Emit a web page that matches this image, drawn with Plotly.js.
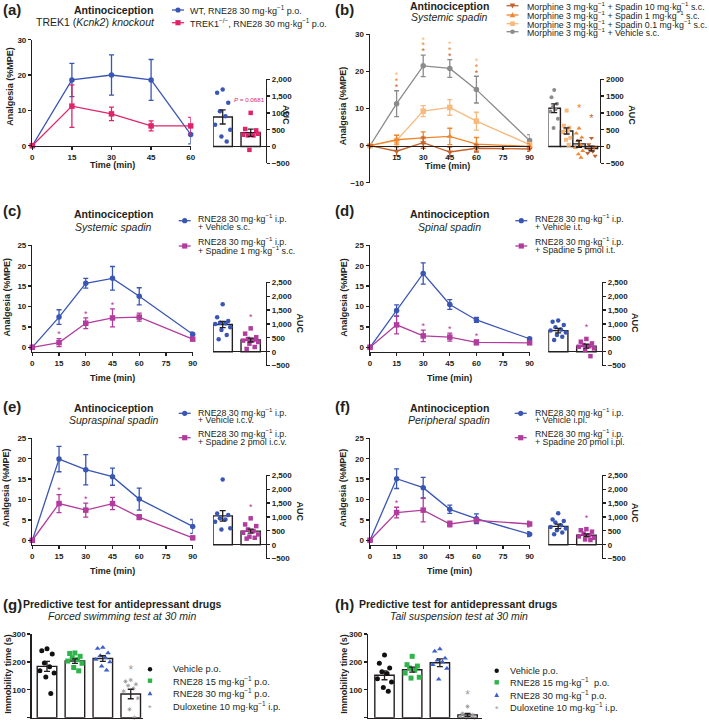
<!DOCTYPE html>
<html><head><meta charset="utf-8">
<script src="https://cdn.plot.ly/plotly-3.0.1.min.js"></script>
<style>html,body{margin:0;padding:0;background:#fff}#chart{width:709px;height:722px}</style>
</head><body><div id="chart"></div>
<script>
// ================= DATA =================
const timeA = [0, 15, 30, 45, 60];
const timeB = [0, 15, 30, 45, 60, 90];
const timeTicks = [0, 15, 30, 45, 60, 75, 90];

// (a) TREK1 knockout
const aWT = [0, 18.6, 20.0, 18.6, 3.2];
const aWTerr = [0, 4.7, 5.7, 5.8, 2.7];
const aKO = [0, 11.2, 9.0, 5.6, 5.6];
const aKOerr = [0, 6.0, 1.9, 1.4, 2.4];
const aAucMean = [880, 410];
const aAucErr = [210, 110];
const aAucWT = [1700, 1600, 1300, 1050, 900, 650, 500, 300, 150];
const aAucKO = [1000, 520, 480, 330, 330, 350, 380, -100];

// (b) systemic spadin with morphine
const bVeh = [0, 11.3, 21.5, 20.8, 15.1, 1.4];
const bVehErr = [0, 3.5, 2.9, 2.4, 3.6, 1.6];
const b01 = [0, 1.4, 9.3, 10.3, 6.6, 0.3];
const b01Err = [0, 1.5, 1.5, 2.1, 2.4, 0.6];
const b1 = [0, 1.6, 2.1, 2.5, 0.4, -0.2];
const b1Err = [0, 1.2, 1.6, 2.2, 1.8, 0.8];
const b10 = [0, -1.5, 0.8, -1.7, -0.7, -0.9];
const b10Err = [0, 1.2, 1.5, 1.3, 1.0, 0.6];
const bSig = [false, true, true, true, true, false];
const bAucMean = [1140, 462, 78, -60];
const bAucErr = [130, 90, 100, 70];
const bAucVeh = [1678, 1467, 1276, 1176, 1105, 1045, 824, 553];
const bAuc01 = [1070, 620, 560, 500, 470, 430, 260, 200, 50];
const bAuc1 = [540, 390, 270, 170, 50, -30, -130, -230, -330];
const bAuc10 = [250, 60, -30, -100, -150, -200, -280];
const bAucSig = [false, false, true, true];

// (c) systemic spadin
const cVeh = [0, 7.4, 15.7, 16.9, 12.5, 3.2];
const cVehErr = [0, 1.8, 1.2, 2.9, 2.1, 0.5];
const cSpa = [0, 1.15, 5.9, 7.2, 7.4, 2.0];
const cSpaErr = [0, 1.0, 1.3, 2.2, 1.0, 0.3];
const cSig = [false, true, true, true, false, false];
const cAucMean = [980, 420];
const cAucErr = [110, 70];
const cAucVeh = [1707, 1238, 1106, 1046, 1022, 998, 877, 781, 601, 445];
const cAucSpa = [840, 650, 520, 460, 420, 400, 350, 290, 170, 100];

// (d) spinal spadin
const dVeh = [0, 9.0, 18.1, 10.5, 6.7, 2.1];
const dVehErr = [0, 1.4, 2.6, 1.2, 0.6, 0.2];
const dSpa = [0, 5.5, 2.8, 2.5, 1.2, 1.1];
const dSpaErr = [0, 2.2, 1.4, 1.0, 0.6, 0.3];
const dSig = [false, false, true, true, true, false];
const dAucMean = [760, 200];
const dAucErr = [80, 70];
const dAucVeh = [1120, 1080, 960, 880, 800, 760, 690, 600, 540, 420];
const dAucSpa = [460, 360, 300, 240, 200, 180, 120, 60, -160];

// (e) supraspinal spadin
const eVeh = [0, 19.9, 17.3, 15.6, 10.1, 3.4];
const eVehErr = [0, 3.1, 3.7, 2.1, 2.7, 1.7];
const eSpa = [0, 9.0, 7.4, 9.0, 5.7, 0.6];
const eSpaErr = [0, 2.2, 1.7, 1.5, 0.6, 0.3];
const eSig = [false, true, true, false, false, false];
const eAucMean = [1040, 490];
const eAucErr = [190, 70];
const eAucVeh = [2350, 1120, 1070, 950, 910, 830, 590, 550];
const eAucSpa = [950, 730, 670, 550, 490, 430, 370, 290, 250, 220];

// (f) peripheral spadin
const fVeh = [0, 15.1, 12.9, 7.6, 5.3, 1.5];
const fVehErr = [0, 2.4, 2.5, 1.0, 1.2, 0.6];
const fSpa = [0, 6.8, 7.4, 4.0, 4.9, 4.0];
const fSpaErr = [0, 1.3, 2.9, 0.7, 0.5, 0.7];
const fSig = [false, true, false, false, false, false];
const fAucMean = [660, 340];
const fAucErr = [80, 50];
const fAucVeh = [1130, 910, 850, 800, 700, 640, 580, 520, 440, 380];
const fAucSpa = [560, 520, 470, 400, 340, 300, 250, 190, 170];

// (g) forced swimming test
const gMean = [184, 203, 212, 85];
const gErr = [18, 8, 10, 17];
const gVeh = [247, 240, 228, 196, 183, 168, 160, 146, 87];
const gR15 = [232, 230, 220, 215, 208, 203, 195, 180, 168];
const gR30 = [252, 248, 232, 222, 215, 209, 200, 184, 170];
const gDul = [135, 130, 120, 115, 105, 95, 70, 30, 0];
const gSig = [false, false, false, true];

// (h) tail suspension test
const hMean = [152, 172, 197, 10];
const hErr = [16, 9, 14, 5];
const hVeh = [225, 195, 178, 165, 158, 140, 128, 108, 95];
const hR15 = [220, 190, 185, 178, 170, 160, 145, 142];
const hR30 = [246, 238, 213, 206, 200, 190, 176, 138];
const hDul = [40, 15, 10, 5, 3, 2, 0, 0];
const hSig = [false, false, false, true];

// ================= STYLE / LAYOUT =================
const W = 709, H = 722;
const FONT = 'Liberation Sans, Arial, Helvetica, sans-serif';
const INK = '#231f20';
const BLUE = '#3a56b4', PINK = '#e0246c', MAG = '#b23c9e', GRAY = '#8b8b8b';
const LOR = '#f8b97c', OR = '#ef852d', DOR = '#c5622b';
const GREEN = '#2fb44b', TBLUE = '#3d5fcc', BLACK = '#111111', DGRAY = '#9a9a9a';
const MG = 'mg·kg<sup>−1</sup>';

const layout = {
  width: W, height: H, margin: {l: 0, r: 0, t: 0, b: 0},
  paper_bgcolor: '#ffffff', plot_bgcolor: 'rgba(0,0,0,0)',
  showlegend: false, annotations: [], shapes: [],
  font: {family: FONT, color: INK}
};
const traces = [];
const px = v => v / W;
const py = v => 1 - v / H;
const baseAxis = () => ({
  showline: true, linecolor: INK, linewidth: 1.4, ticks: 'outside', ticklen: 3,
  tickwidth: 1.3, tickcolor: INK, showgrid: false, zeroline: false, fixedrange: true,
  tickfont: {family: FONT, size: 8, color: INK, weight: 'bold'}, layer: 'above traces'
});
let nAx = 0;
function newAxes(xd, yd, xopt, yopt) {
  nAx++;
  const s = nAx === 1 ? '' : String(nAx);
  layout['xaxis' + s] = Object.assign(baseAxis(), {domain: [px(xd[0]), px(xd[1])], anchor: 'y' + s}, xopt);
  layout['yaxis' + s] = Object.assign(baseAxis(), {domain: [py(yd[1]), py(yd[0])], anchor: 'x' + s}, yopt);
  return {x: 'x' + s, y: 'y' + s};
}
function txt(t, x, y, o) {
  o = o || {};
  layout.annotations.push({text: t, xref: 'paper', yref: 'paper', x: px(x), y: py(y),
    xanchor: o.xa || 'center', yanchor: 'middle', showarrow: false, textangle: o.rot || 0,
    font: {family: FONT, size: o.size || 9, color: o.color || INK}});
}
function key(cx, cy, color, sym, withLine, r) {
  r = r || 2.6;
  const P = {xref: 'paper', yref: 'paper', layer: 'above'};
  if (withLine) layout.shapes.push(Object.assign({type: 'line', x0: px(cx - 6), x1: px(cx + 6), y0: py(cy), y1: py(cy), line: {color: color, width: 1.3}}, P));
  if (sym === 'circle') layout.shapes.push(Object.assign({type: 'circle', x0: px(cx - r), x1: px(cx + r), y0: py(cy + r), y1: py(cy - r), fillcolor: color, line: {width: 0}}, P));
  else if (sym === 'square') layout.shapes.push(Object.assign({type: 'rect', x0: px(cx - r), x1: px(cx + r), y0: py(cy + r), y1: py(cy - r), fillcolor: color, line: {width: 0}}, P));
  else if (sym === 'triangle-up') layout.shapes.push(Object.assign({type: 'path', path: `M${px(cx - r * 1.2)},${py(cy + r)} L${px(cx + r * 1.2)},${py(cy + r)} L${px(cx)},${py(cy - r * 1.2)} Z`, fillcolor: color, line: {width: 0}}, P));
  else if (sym === 'triangle-down') layout.shapes.push(Object.assign({type: 'path', path: `M${px(cx - r * 1.2)},${py(cy - r)} L${px(cx + r * 1.2)},${py(cy - r)} L${px(cx)},${py(cy + r * 1.2)} Z`, fillcolor: color, line: {width: 0}}, P));
  else if (sym === 'star') txt('*', cx, cy + 2, {color: color, size: 9});
}
function addSeries(ax, x, y, err, color, symbol, ms) {
  traces.push({type: 'scatter', mode: 'lines+markers', x: x, y: y, xaxis: ax.x, yaxis: ax.y,
    cliponaxis: false, hoverinfo: 'skip',
    line: {color: color, width: 1.3}, marker: {color: color, symbol: symbol, size: ms || 5.5, line: {width: 0}},
    error_y: {type: 'data', array: err, visible: true, color: color, thickness: 1.3, width: 2.5}});
}
function addStars(ax, x, y, err, sig, color, size, gap) {
  const xs = [], ys = [];
  x.forEach((v, i) => { if (sig[i]) { xs.push(v); ys.push(y[i] + err[i] + gap); } });
  traces.push({type: 'scatter', mode: 'text', x: xs, y: ys, text: xs.map(() => '*'),
    textposition: 'middle center', textfont: {family: FONT, size: size, color: color},
    xaxis: ax.x, yaxis: ax.y, cliponaxis: false, hoverinfo: 'skip'});
}
const JIT = [0, -0.22, 0.22, -0.11, 0.11, -0.3, 0.3, -0.05, 0.16, -0.16];
function addAuc(ax, means, errs, groups, barW, jit, sig, sigGap, sigSize) {
  traces.push({type: 'bar', x: means.map((_, i) => i), y: means, width: barW, xaxis: ax.x, yaxis: ax.y,
    marker: {color: '#ffffff', line: {color: INK, width: 1.4}}, hoverinfo: 'skip'});
  groups.forEach((g, i) => {
    traces.push({type: 'scatter', mode: 'markers', x: g.vals.map((_, k) => i + JIT[k % JIT.length] * jit), y: g.vals,
      xaxis: ax.x, yaxis: ax.y, cliponaxis: false, hoverinfo: 'skip',
      marker: {color: g.color, symbol: g.symbol, size: g.size || 4.5,
        line: g.symbol === 'asterisk-open' ? {color: g.color, width: 0.8} : {width: 0}}});
  });
  traces.push({type: 'scatter', mode: 'markers', x: means.map((_, i) => i), y: means, xaxis: ax.x, yaxis: ax.y,
    marker: {size: 1, color: 'rgba(0,0,0,0)'}, hoverinfo: 'skip', cliponaxis: false,
    error_y: {type: 'data', array: errs, visible: true, color: INK, thickness: 1.3, width: 3}});
  if (sig) {
    const xs = [], ys = [];
    sig.forEach((s, i) => { if (s) { xs.push(i); ys.push(Math.max.apply(null, groups[i].vals) + sigGap); } });
    traces.push({type: 'scatter', mode: 'text', x: xs, y: ys, text: xs.map(() => '*'), textposition: 'middle center',
      textfont: {family: FONT, size: sigSize || 9, color: groups[sig.indexOf(true)].color},
      xaxis: ax.x, yaxis: ax.y, cliponaxis: false, hoverinfo: 'skip'});
  }
}
const aucX = {visible: false, fixedrange: true};
function aucY(range, extra) {
  return Object.assign({side: 'right', range: range, dtick: 500, zeroline: true, zerolinecolor: INK, zerolinewidth: 1.4, tickformat: ','}, extra || {});
}

// ---------- (a) ----------
let ax = newAxes([32.3, 190.7], [39.7, 145.7], {range: [0, 60], tickvals: timeA}, {range: [0, 30], tickvals: [0, 10, 20, 30]});
addSeries(ax, timeA, aWT, aWTerr, BLUE, 'circle');
addSeries(ax, timeA, aKO, aKOerr, PINK, 'square');
ax = newAxes([213, 265.7], [79.3, 163.3], Object.assign({range: [-0.346, 1.536]}, aucX),
  aucY([-500, 2000], {tickvals: [-500, 0, 500, 1000, 1500, 2000], ticktext: ['−500', '0', '500', '1000', '1,500', '2,000']}));
addAuc(ax, aAucMean, aAucErr, [{vals: aAucWT, color: BLUE, symbol: 'circle'}, {vals: aAucKO, color: PINK, symbol: 'square'}], 0.69, 0.9);

// ---------- (b) ----------
ax = newAxes([370, 529.6], [34.3, 182.8], {range: [0, 90], tickvals: [15, 30, 45, 60, 75, 90], anchor: 'free', position: py(145.7)},
  {range: [-10, 30], tickvals: [-10, 0, 10, 20, 30]});
addSeries(ax, timeB, bVeh, bVehErr, GRAY, 'circle');
addSeries(ax, timeB, b01, b01Err, LOR, 'square');
addSeries(ax, timeB, b1, b1Err, OR, 'triangle-up');
addSeries(ax, timeB, b10, b10Err, DOR, 'triangle-down');
addStars(ax, timeB, bVeh, bVehErr, bSig, DOR, 9, 0.8);
addStars(ax, timeB, bVeh, bVehErr, bSig, OR, 9, 2.4);
addStars(ax, timeB, bVeh, bVehErr, bSig, LOR, 9, 4.0);
ax = newAxes([548.3, 600], [79.3, 163.3], Object.assign({range: [-0.476, 3.69]}, aucX), aucY([-500, 2000], {tickformat: ''}));
addAuc(ax, bAucMean, bAucErr, [
  {vals: bAucVeh, color: GRAY, symbol: 'circle', size: 4},
  {vals: bAuc01, color: LOR, symbol: 'square', size: 4},
  {vals: bAuc1, color: OR, symbol: 'triangle-up', size: 4.5},
  {vals: bAuc10, color: DOR, symbol: 'triangle-down', size: 4.5}], 1, 1.0);
// significance stars above AUC bars of (b)
(function () {
  const cols = [GRAY, LOR, OR, DOR], grp = [bAucVeh, bAuc01, bAuc1, bAuc10];
  bAucSig.forEach((s, i) => {
    if (!s) return;
    traces.push({type: 'scatter', mode: 'text', x: [i], y: [Math.max.apply(null, grp[i]) + 560], text: ['*'],
      textposition: 'middle center', textfont: {family: FONT, size: 11, color: cols[i]},
      xaxis: ax.x, yaxis: ax.y, cliponaxis: false, hoverinfo: 'skip'});
  });
})();

// ---------- (c)-(f) ----------
function spadinPanel(left, top0, veh, vehErr, spa, spaErr, sig, aucMean, aucErr, aucVeh, aucSpa) {
  const xd = left ? [32.3, 192.7] : [370, 529.6];
  const yBot = top0 + 106.5;
  let a = newAxes(xd, [top0, yBot], {range: [0, 90], tickvals: timeTicks}, {range: [-1.1, 25], tickvals: [0, 5, 10, 15, 20, 25]});
  addSeries(a, timeB, veh, vehErr, BLUE, 'circle');
  addSeries(a, timeB, spa, spaErr, MAG, 'square');
  addStars(a, timeB, spa, spaErr, sig, MAG, 9, 0.9);
  const axd = left ? [213, 265.7] : [548.3, 601.7];
  const xr = left ? [-0.346, 1.536] : [-0.351, 1.543];
  const aTop = top0 + 37;
  a = newAxes(axd, [aTop, aTop + 83.3], Object.assign({range: xr}, aucX), aucY([-500, 2500]));
  addAuc(a, aucMean, aucErr, [{vals: aucVeh, color: BLUE, symbol: 'circle'}, {vals: aucSpa, color: MAG, symbol: 'square'}],
    0.69, 0.9, [false, true], 390, 9);
}
spadinPanel(true, 245.3, cVeh, cVehErr, cSpa, cSpaErr, cSig, cAucMean, cAucErr, cAucVeh, cAucSpa);
spadinPanel(false, 245.3, dVeh, dVehErr, dSpa, dSpaErr, dSig, dAucMean, dAucErr, dAucVeh, dAucSpa);
spadinPanel(true, 438.3, eVeh, eVehErr, eSpa, eSpaErr, eSig, eAucMean, eAucErr, eAucVeh, eAucSpa);
spadinPanel(false, 438.3, fVeh, fVehErr, fSpa, fSpaErr, fSig, fAucMean, fAucErr, fAucVeh, fAucSpa);

// ---------- (g) & (h) ----------
function testPanel(xd, xr, mean, err, veh, r15, r30, dul, sig, sigGap) {
  const a = newAxes(xd, [634, 717.7], {range: xr, ticks: '', showticklabels: false}, {range: [0, 300], tickvals: [0, 100, 200, 300]});
  addAuc(a, mean, err, [
    {vals: veh, color: BLACK, symbol: 'circle', size: 5},
    {vals: r15, color: GREEN, symbol: 'square', size: 5},
    {vals: r30, color: TBLUE, symbol: 'triangle-up', size: 5},
    {vals: dul, color: DGRAY, symbol: 'asterisk-open', size: 3.5}], 0.7, 0.85);
  sig.forEach((s, i) => {
    if (!s) return;
    traces.push({type: 'scatter', mode: 'text', x: [i], y: [Math.max.apply(null, dul) + sigGap], text: ['*'],
      textposition: 'middle center', textfont: {family: FONT, size: 12, color: DGRAY},
      xaxis: a.x, yaxis: a.y, cliponaxis: false, hoverinfo: 'skip'});
  });
}
testPanel([31.7, 143.3], [-0.548, 3.45], gMean, gErr, gVeh, gR15, gR30, gDul, gSig, 32);
testPanel([368.3, 481.7], [-0.585, 3.51], hMean, hErr, hVeh, hR15, hR30, hDul, hSig, 39);

// ================= TEXT =================
[['(a)', 1, 10], ['(b)', 333, 10], ['(c)', 1, 210], ['(d)', 333, 210], ['(e)', 1, 406.7], ['(f)', 333, 406.7], ['(g)', 1, 604], ['(h)', 333, 604]]
  .forEach(p => txt('<b>' + p[0] + '</b>', p[1], p[2], {xa: 'left', size: 15}));

txt('<b>Antinociception</b>', 113.7, 10, {size: 10.5});
txt('TREK1 (<i>Kcnk2</i>) <i>knockout</i>', 95.4, 21.7, {size: 10.5});
txt('<b>Antinociception</b>', 449.3, 5.7, {size: 10.5});
txt('<i>Systemic spadin</i>', 449.3, 17.3, {size: 10.5});
txt('<b>Antinociception</b>', 113.3, 214.3, {size: 10.5});
txt('<i>Systemic spadin</i>', 113.3, 226.7, {size: 10.5});
txt('<b>Antinociception</b>', 449.3, 214.3, {size: 10.5});
txt('<i>Spinal spadin</i>', 449.3, 226.7, {size: 10.5});
txt('<b>Antinociception</b>', 113.3, 407.7, {size: 10.5});
txt('<i>Supraspinal spadin</i>', 113.3, 420, {size: 10.5});
txt('<b>Antinociception</b>', 449.3, 407.7, {size: 10.5});
txt('<i>Peripheral spadin</i>', 449.3, 420, {size: 10.5});
txt('<b>Predictive test for antidepressant drugs</b>', 122.5, 604, {size: 10.5});
txt('<i>Forced swimming test at 30 min</i>', 122.2, 615.7, {size: 10.5});
txt('<b>Predictive test for antidepressant drugs</b>', 458.8, 604, {size: 10.5});
txt('<i>Tail suspension test at 30 min</i>', 459.3, 615.7, {size: 10.5});

[[112.5, 165.5], [447.5, 165.7], [112.8, 377.7], [449.7, 377.7], [112.8, 570.7], [449.7, 570.7]]
  .forEach(p => txt('<b>Time (min)</b>', p[0], p[1], {size: 9}));
[[10, 86.7], [343.3, 106], [6, 297.5], [343.3, 297.5], [6, 488], [343.3, 488]]
  .forEach(p => txt('<b>Analgesia (%MPE)</b>', p[0], p[1], {size: 9, rot: -90}));
[[7.3, 673.5], [343.3, 673.5]].forEach(p => txt('<b>Immobility time (s)</b>', p[0], p[1], {size: 9, rot: -90}));
[[286, 115], [631.7, 115], [299.5, 323], [635, 323], [299.5, 511], [635, 513]]
  .forEach(p => txt('<b>AUC</b>', p[0], p[1], {size: 9, rot: 90}));
txt('<i>P</i> = 0.0681', 249, 99, {size: 6.2, color: PINK});

// legends
key(178, 10, BLUE, 'circle', true);
txt('WT, RNE28 30 ' + MG + ' p.o.', 187.7, 10, {xa: 'left', size: 9});
key(178, 22.7, PINK, 'square', true);
txt('TREK1<sup>−/−</sup>, RNE28 30 ' + MG + ' p.o.', 187.7, 22.7, {xa: 'left', size: 9});

const bLeg = [[DOR, 'triangle-down', 'Morphine 3 ' + MG + ' + Spadin 10 ' + MG + ' s.c.'],
  [OR, 'triangle-up', 'Morphine 3 ' + MG + ' + Spadin 1 ' + MG + ' s.c.'],
  [LOR, 'square', 'Morphine 3 ' + MG + ' + Spadin 0.1 ' + MG + ' s.c.'],
  [GRAY, 'circle', 'Morphine 3 ' + MG + ' + Vehicle s.c.']];
[5.7, 15, 23.7, 31.7].forEach((yy, i) => {
  key(512.5, yy, bLeg[i][0], bLeg[i][1], true, 2.3);
  txt(bLeg[i][2], 525, yy, {xa: 'left', size: 8.8});
});

function spadinLegend(cx, tx, rows, marks, veh, spa) {
  key(cx, marks[0], BLUE, 'circle', true);
  key(cx, marks[1], MAG, 'square', true);
  txt('RNE28 30 ' + MG + ' i.p.', tx, rows[0], {xa: 'left', size: 8.8});
  txt(veh, tx, rows[1], {xa: 'left', size: 8.8});
  txt('RNE28 30 ' + MG + ' i.p.', tx, rows[2], {xa: 'left', size: 8.8});
  txt(spa, tx, rows[3], {xa: 'left', size: 8.8});
}
spadinLegend(184.7, 195.7, [218.3, 226.7, 241, 250], [220.7, 246], '+ Vehicle s.c.', '+ Spadine 1 ' + MG + ' s.c.');
spadinLegend(521.3, 532.7, [218.3, 226.7, 241, 250], [220.7, 246], '+ Vehicle i.t.', '+ Spadine 5 pmol i.t.');
spadinLegend(184.7, 195.7, [411.7, 419.8, 433.3, 442.3], [413.3, 437.7], '+ Vehicle i.c.v.', '+ Spadine 2 pmol i.c.v.');
spadinLegend(520.7, 532.7, [411.7, 419.8, 433.3, 442.3], [413.3, 437.7], '+ Vehicle i.pl.', '+ Spadine 20 pmol i.pl.');

function testLegend(cx, tx, rows, r15label) {
  key(cx, rows[0], BLACK, 'circle', false, 2.2);
  key(cx, rows[1], GREEN, 'square', false, 2.2);
  key(cx, rows[2], TBLUE, 'triangle-up', false, 2.0);
  key(cx, rows[3], DGRAY, 'star', false);
  txt('Vehicle p.o.', tx, rows[0], {xa: 'left', size: 9.3});
  txt(r15label, tx, rows[1], {xa: 'left', size: 9.3});
  txt('RNE28 30 ' + MG + ' p.o.', tx, rows[2], {xa: 'left', size: 9.3});
  txt('Duloxetine 10 ' + MG + ' i.p.', tx, rows[3], {xa: 'left', size: 9.3});
}
testLegend(150, 170.7, [669.3, 680.7, 693.3, 705.7], 'RNE28 15 ' + MG + ' p.o.');
testLegend(496.7, 508.3, [670.7, 682.3, 695, 707.3], 'RNE28 15 ' + MG + '  p.o.');

Plotly.newPlot('chart', traces, layout, {displayModeBar: false, staticPlot: true});
</script>
</body></html>
